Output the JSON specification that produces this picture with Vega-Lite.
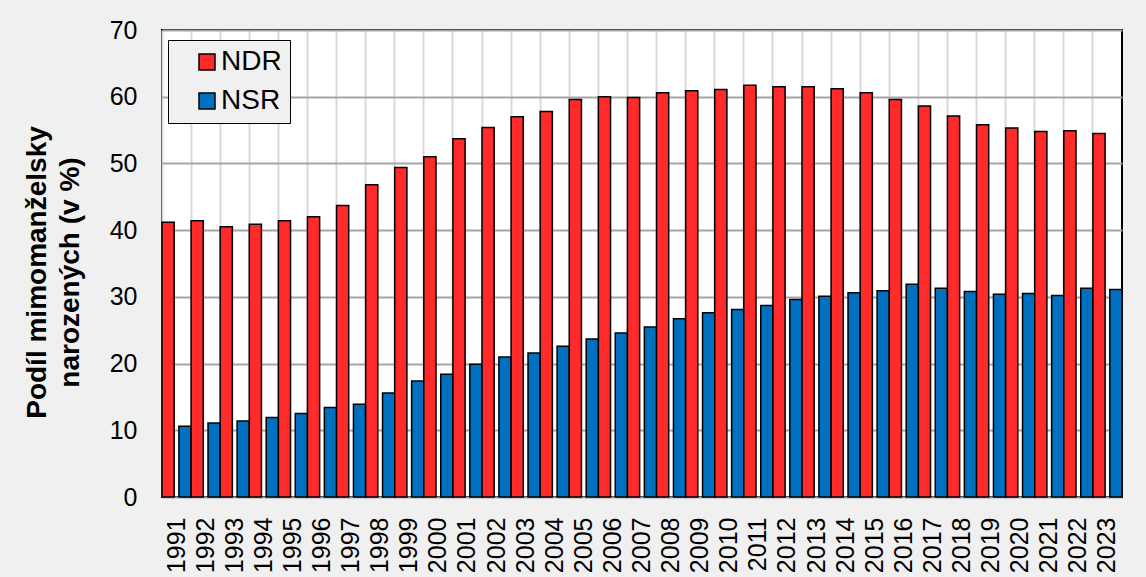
{
  "$schema": "https://vega.github.io/schema/vega-lite/v6.json",
  "width": 960,
  "height": 467,
  "autosize": {"type": "none"},
  "padding": {"left": 162, "top": 30, "right": 24, "bottom": 80},
  "background": "#f0f0f0",
  "config": {
    "font": "Liberation Sans",
    "view": {"fill": "white", "stroke": "black", "strokeWidth": 2},
    "axis": {"labelColor": "black", "titleColor": "black"}
  },
  "data": {
    "values": [
      {"year": "1991", "series": "NDR", "value": 41.2}, {"year": "1991", "series": "NSR", "value": 10.6},
      {"year": "1992", "series": "NDR", "value": 41.4}, {"year": "1992", "series": "NSR", "value": 11.1},
      {"year": "1993", "series": "NDR", "value": 40.5}, {"year": "1993", "series": "NSR", "value": 11.4},
      {"year": "1994", "series": "NDR", "value": 40.9}, {"year": "1994", "series": "NSR", "value": 11.9},
      {"year": "1995", "series": "NDR", "value": 41.4}, {"year": "1995", "series": "NSR", "value": 12.5},
      {"year": "1996", "series": "NDR", "value": 42.0}, {"year": "1996", "series": "NSR", "value": 13.4},
      {"year": "1997", "series": "NDR", "value": 43.7}, {"year": "1997", "series": "NSR", "value": 13.9},
      {"year": "1998", "series": "NDR", "value": 46.8}, {"year": "1998", "series": "NSR", "value": 15.6},
      {"year": "1999", "series": "NDR", "value": 49.4}, {"year": "1999", "series": "NSR", "value": 17.4},
      {"year": "2000", "series": "NDR", "value": 51.0}, {"year": "2000", "series": "NSR", "value": 18.4},
      {"year": "2001", "series": "NDR", "value": 53.7}, {"year": "2001", "series": "NSR", "value": 19.9},
      {"year": "2002", "series": "NDR", "value": 55.4}, {"year": "2002", "series": "NSR", "value": 21.0},
      {"year": "2003", "series": "NDR", "value": 57.0}, {"year": "2003", "series": "NSR", "value": 21.6},
      {"year": "2004", "series": "NDR", "value": 57.8}, {"year": "2004", "series": "NSR", "value": 22.6},
      {"year": "2005", "series": "NDR", "value": 59.6}, {"year": "2005", "series": "NSR", "value": 23.7},
      {"year": "2006", "series": "NDR", "value": 60.0}, {"year": "2006", "series": "NSR", "value": 24.6},
      {"year": "2007", "series": "NDR", "value": 59.9}, {"year": "2007", "series": "NSR", "value": 25.5},
      {"year": "2008", "series": "NDR", "value": 60.6}, {"year": "2008", "series": "NSR", "value": 26.7},
      {"year": "2009", "series": "NDR", "value": 60.9}, {"year": "2009", "series": "NSR", "value": 27.6},
      {"year": "2010", "series": "NDR", "value": 61.1}, {"year": "2010", "series": "NSR", "value": 28.1},
      {"year": "2011", "series": "NDR", "value": 61.7}, {"year": "2011", "series": "NSR", "value": 28.7},
      {"year": "2012", "series": "NDR", "value": 61.5}, {"year": "2012", "series": "NSR", "value": 29.6},
      {"year": "2013", "series": "NDR", "value": 61.5}, {"year": "2013", "series": "NSR", "value": 30.1},
      {"year": "2014", "series": "NDR", "value": 61.2}, {"year": "2014", "series": "NSR", "value": 30.6},
      {"year": "2015", "series": "NDR", "value": 60.6}, {"year": "2015", "series": "NSR", "value": 30.9},
      {"year": "2016", "series": "NDR", "value": 59.6}, {"year": "2016", "series": "NSR", "value": 31.9},
      {"year": "2017", "series": "NDR", "value": 58.6}, {"year": "2017", "series": "NSR", "value": 31.3},
      {"year": "2018", "series": "NDR", "value": 57.1}, {"year": "2018", "series": "NSR", "value": 30.8},
      {"year": "2019", "series": "NDR", "value": 55.8}, {"year": "2019", "series": "NSR", "value": 30.4},
      {"year": "2020", "series": "NDR", "value": 55.3}, {"year": "2020", "series": "NSR", "value": 30.5},
      {"year": "2021", "series": "NDR", "value": 54.8}, {"year": "2021", "series": "NSR", "value": 30.2},
      {"year": "2022", "series": "NDR", "value": 54.9}, {"year": "2022", "series": "NSR", "value": 31.3},
      {"year": "2023", "series": "NDR", "value": 54.5}, {"year": "2023", "series": "NSR", "value": 31.1}
    ]
  },
  "mark": {"type": "bar", "stroke": "black", "strokeWidth": 1.5},
  "encoding": {
    "x": {
      "field": "year",
      "type": "ordinal",
      "scale": {"paddingInner": 0, "paddingOuter": 0},
      "axis": {
        "title": null,
        "labelAngle": 270,
        "labelFontSize": 25,
        "labelPadding": 20,
        "ticks": false,
        "domain": false,
        "grid": true,
        "bandPosition": 0,
        "gridColor": "#d9d9d9",
        "gridWidth": 2
      }
    },
    "xOffset": {
      "field": "series",
      "type": "nominal",
      "scale": {"domain": ["NDR", "NSR"], "paddingInner": 0.28, "paddingOuter": 0}
    },
    "y": {
      "field": "value",
      "type": "quantitative",
      "scale": {"domain": [0, 70], "nice": false},
      "axis": {
        "title": ["Podíl mimomanželsky", "narozených (v %)"],
        "titleFontSize": 28,
        "titleFontWeight": "bold",
        "titleLineHeight": 33,
        "titlePadding": 25,
        "titleY": 242,
        "values": [0, 10, 20, 30, 40, 50, 60, 70],
        "labelFontSize": 25,
        "labelPadding": 25,
        "ticks": false,
        "domain": false,
        "gridColor": "#a6a6a6",
        "gridWidth": 2
      }
    },
    "color": {
      "field": "series",
      "type": "nominal",
      "scale": {"domain": ["NDR", "NSR"], "range": ["#ff2a2a", "#0070c0"]},
      "legend": {
        "title": null,
        "orient": "none",
        "legendX": 6,
        "legendY": 10,
        "direction": "vertical",
        "fillColor": "#f0f0f0",
        "strokeColor": "black",
        "padding": 8,
        "symbolOffset": 17,
        "symbolType": "square",
        "symbolSize": 256,
        "symbolStrokeColor": "black",
        "symbolStrokeWidth": 1.5,
        "symbolOpacity": 1,
        "labelFontSize": 28,
        "labelColor": "black",
        "labelOffset": 0,
        "rowPadding": 11
      }
    }
  }
}
